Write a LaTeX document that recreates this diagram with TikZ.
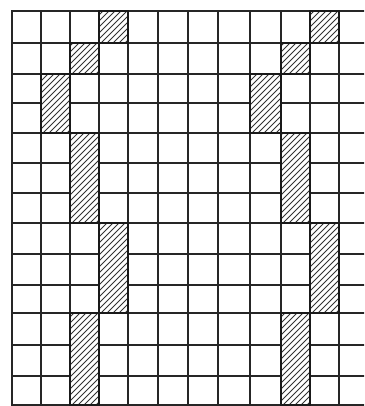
\documentclass[tikz,border=0pt]{standalone}
\begin{document}
\begin{tikzpicture}[x=1pt,y=-1pt,
  gridline/.style={line width=1.7pt, draw=black!85, line cap=rect},
  hatch/.style={line width=0.9pt, draw=black!80},
  cellborder/.style={line width=2.4pt, draw=black!90}]
\useasboundingbox (0,0) rectangle (364,406);
\fill[white] (0,0) rectangle (364,406);
\clip (0,0) rectangle (364,406);
% grid
\foreach \x in {12,41,70,99,128,158,188,218,250,281,310,339}
  \draw[gridline] (\x,11) -- (\x,405);
\foreach \y in {11,43,74,103,133,163,193,223,254,285,313,345,376,405}
  \draw[gridline] (12,\y) -- (370,\y);
% hatched cells
\newcommand\hatchcell[4]{%
  \begin{scope}
    \clip (#1,#2) rectangle (#3,#4);
    \fill[white] (#1,#2) rectangle (#3,#4);
    \foreach \k in {-100,-94,...,35}
      \draw[hatch] ({#1+(\k)},#4) -- ++(100,-100);
  \end{scope}
  \draw[cellborder] (#1,#2) rectangle (#3,#4);
}
\hatchcell{99}{11}{128}{43}
\hatchcell{70}{43}{99}{74}
\hatchcell{41}{74}{70}{133}
\hatchcell{70}{133}{99}{223}
\hatchcell{99}{223}{128}{313}
\hatchcell{70}{313}{99}{405}
\hatchcell{310}{11}{339}{43}
\hatchcell{281}{43}{310}{74}
\hatchcell{250}{74}{281}{133}
\hatchcell{281}{133}{310}{223}
\hatchcell{310}{223}{339}{313}
\hatchcell{281}{313}{310}{405}
\end{tikzpicture}
\end{document}
